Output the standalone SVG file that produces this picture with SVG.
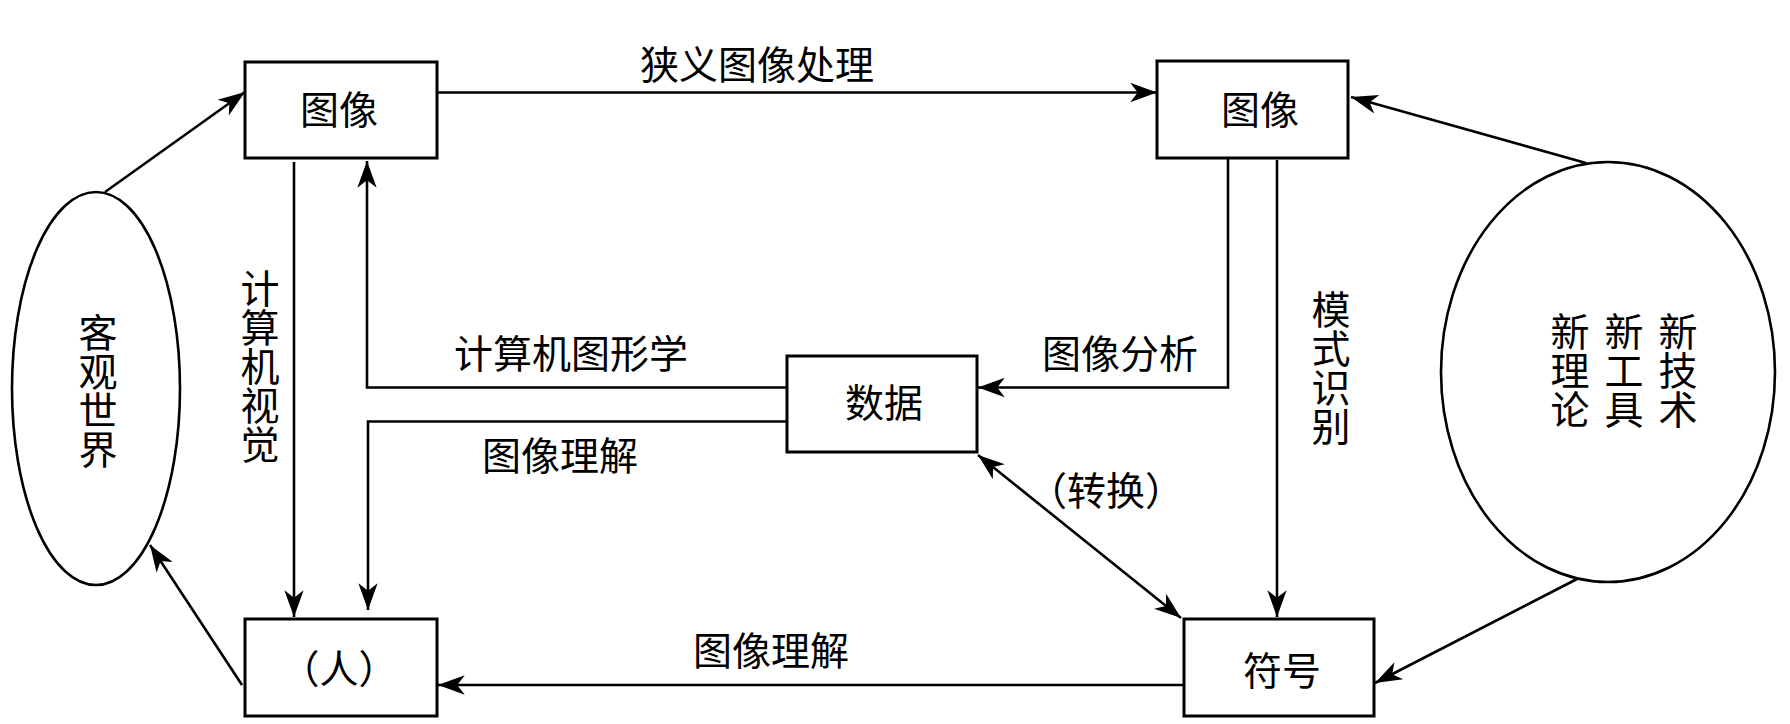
<svg xmlns="http://www.w3.org/2000/svg" width="1790" height="724" viewBox="0 0 1790 724">
<style>
.box{fill:#fff;stroke:#000;stroke-width:3}
.ell{fill:#fff;stroke:#000;stroke-width:2.6}
.ln{fill:none;stroke:#000;stroke-width:2.6}
.t{font-family:"Noto Sans CJK SC","Noto Sans CJK JP",sans-serif;font-size:39px;fill:#000;text-anchor:middle}
.v{writing-mode:vertical-rl}
</style>
<defs>
<marker id="ah" markerUnits="userSpaceOnUse" markerWidth="30" markerHeight="24" viewBox="-26 -10 28 20" refX="0" refY="0" orient="auto-start-reverse">
<path d="M0,0 L-25,-9 L-18,0 L-25,9 Z" fill="#000"/>
</marker>
</defs>
<rect width="1790" height="724" fill="#fff"/>
<g id="connectors">
<path class="ln" d="M105,192 L245,92" marker-end="url(#ah)"/>
<path class="ln" d="M437,92.5 L1157,92.5" marker-end="url(#ah)"/>
<path class="ln" d="M1586,163 L1351,97" marker-end="url(#ah)"/>
<path class="ln" d="M1577,579 L1375,683" marker-end="url(#ah)"/>
<path class="ln" d="M1184,685 L438,685" marker-end="url(#ah)"/>
<path class="ln" d="M242,685 L150,545" marker-end="url(#ah)"/>
<path class="ln" d="M294,162 L294,617" marker-end="url(#ah)"/>
<path class="ln" d="M787,387.5 L367,387.5 L367,161" marker-end="url(#ah)"/>
<path class="ln" d="M787,421.5 L368,421.5 L368,610" marker-end="url(#ah)"/>
<path class="ln" d="M1228,159 L1228,387.5 L978,387.5" marker-end="url(#ah)"/>
<path class="ln" d="M1277,160 L1277,617" marker-end="url(#ah)"/>
<path class="ln" d="M978,455 L1181,618" marker-start="url(#ah)" marker-end="url(#ah)"/>
</g>
<g id="labels">
<text class="t" x="757" y="79">狭义图像处理</text>
<text class="t" x="571" y="368">计算机图形学</text>
<text class="t" x="560" y="470">图像理解</text>
<text class="t" x="1120" y="368">图像分析</text>
<text class="t" x="1106" y="505">（转换）</text>
<text class="t" x="771" y="665">图像理解</text>
<text class="t v" x="260" y="366">计算机视觉</text>
<text class="t v" x="1331" y="367.5">模式识别</text>
</g>
<g id="node-world">
<ellipse class="ell" cx="96" cy="388.5" rx="84" ry="196.5"/>
<text class="t v" x="98" y="391">客观世界</text>
</g>
<g id="node-image1">
<rect class="box" x="245" y="62" width="192" height="96"/>
<text class="t" x="339" y="124">图像</text>
</g>
<g id="node-image2">
<rect class="box" x="1157" y="61" width="191" height="97"/>
<text class="t" x="1260" y="124">图像</text>
</g>
<g id="node-data">
<rect class="box" x="787" y="356" width="190" height="96"/>
<text class="t" x="884" y="417">数据</text>
</g>
<g id="node-human">
<rect class="box" x="245" y="619" width="192" height="97"/>
<text class="t" x="339" y="683">（人）</text>
</g>
<g id="node-symbol">
<rect class="box" x="1184" y="619" width="190" height="97"/>
<text class="t" x="1282" y="685">符号</text>
</g>
<g id="node-new">
<ellipse class="ell" cx="1608" cy="372" rx="167" ry="210"/>
<text class="t v" x="1570" y="370">新理论</text>
<text class="t v" x="1624" y="370">新工具</text>
<text class="t v" x="1678" y="370">新技术</text>
</g>
</svg>
